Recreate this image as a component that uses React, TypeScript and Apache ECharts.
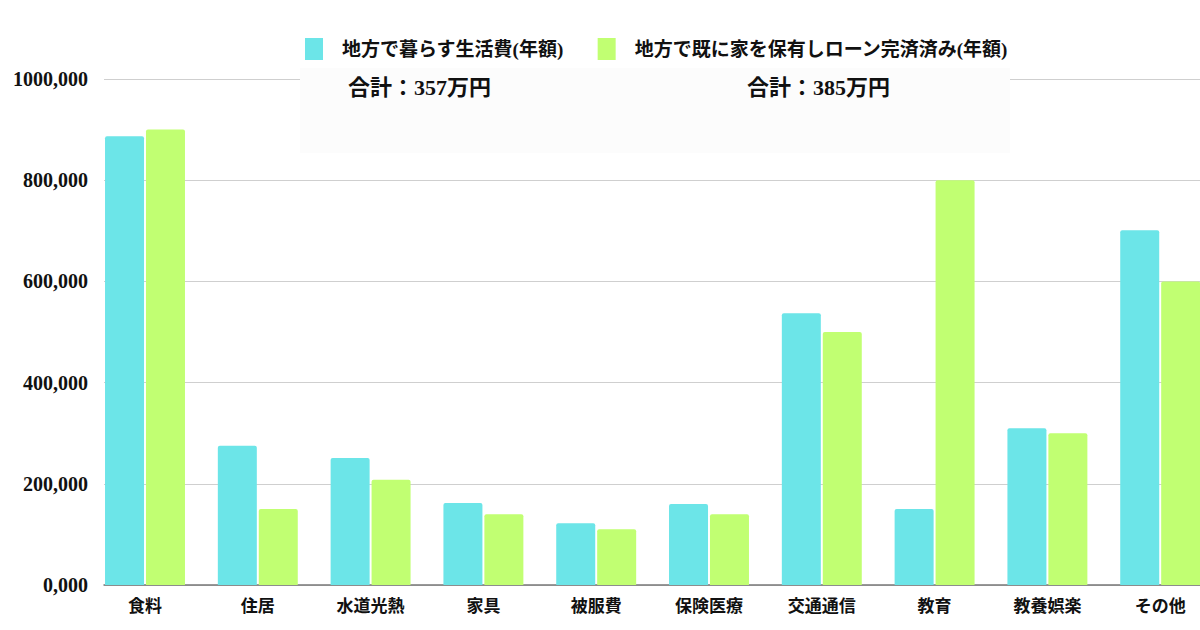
import React, { useEffect, useRef } from "react";
import * as echarts from "echarts";

const categories = ["食料", "住居", "水道光熱", "家具", "被服費", "保険医療", "交通通信", "教育", "教養娯楽", "その他"];
const seriesNames = ["地方で暮らす生活費(年額)", "地方で既に家を保有しローン完済済み(年額)"];
const ruralLiving = [887000, 275000, 251000, 162000, 122000, 160000, 537000, 150000, 310000, 701000];
const ownedHome = [900000, 150000, 208000, 140000, 110000, 140000, 500000, 800000, 300000, 600000];
const totals = ["合計：357万円", "合計：385万円"];
const colors = ["#6ce5e8", "#c1ff72"];

const FONT = "'Liberation Serif', 'Noto Sans CJK JP', serif";

function fmt(v: number): string {
  const k = Math.floor(v / 1000);
  const r = v % 1000;
  return k + "," + String(r).padStart(3, "0");
}

export default function App() {
  const ref = useRef<HTMLDivElement>(null);
  useEffect(() => {
    if (!ref.current) return;
    const chart = echarts.init(ref.current, null, { renderer: "svg" });
    const gridTop = 79;
    const gridH = 506;
    chart.setOption({
      animation: false,
      backgroundColor: "#ffffff",
      textStyle: { fontFamily: FONT },
      legend: {
        left: 300,
        top: 33,
        itemWidth: 18,
        itemHeight: 22,
        itemGap: 34,
        icon: "rect",
        data: seriesNames,
        textStyle: { fontFamily: FONT, fontSize: 19, fontWeight: "bold", color: "#111", padding: [0, 0, 0, 14] },
      },
      grid: [
        { left: 88.6, top: gridTop, width: 1128, height: gridH },
        { left: 104, top: gridTop, width: 1130, height: gridH },
      ],
      xAxis: [
        {
          type: "category",
          gridIndex: 0,
          data: categories,
          axisLine: { show: false },
          axisTick: { show: false },
          axisLabel: { fontFamily: FONT, fontSize: 17, fontWeight: "bold", color: "#111", margin: 13 },
        },
        {
          type: "category",
          gridIndex: 1,
          data: categories,
          axisLine: { show: true, lineStyle: { color: "#777", width: 1.5 } },
          axisTick: { show: false },
          axisLabel: { show: false },
        },
      ],
      yAxis: [
        { type: "value", gridIndex: 0, min: 0, max: 1000000, interval: 200000, show: false, splitLine: { show: false } },
        {
          type: "value",
          gridIndex: 1,
          min: 0,
          max: 1000000,
          interval: 200000,
          axisLine: { show: false },
          axisTick: { show: false },
          splitLine: { lineStyle: { color: "#cfcfcf", width: 1 } },
          axisLabel: {
            fontFamily: FONT,
            fontSize: 20,
            fontWeight: "bold",
            color: "#111",
            margin: 16,
            formatter: (v: number) => fmt(v),
          },
        },
      ],
      series: [
        {
          name: seriesNames[0],
          type: "bar",
          xAxisIndex: 0,
          yAxisIndex: 0,
          data: ruralLiving,
          barWidth: 39,
          barGap: "5%",
          itemStyle: { color: colors[0], borderRadius: [2, 2, 0, 0] },
        },
        {
          name: seriesNames[1],
          type: "bar",
          xAxisIndex: 0,
          yAxisIndex: 0,
          data: ownedHome,
          barWidth: 39,
          barGap: "5%",
          itemStyle: { color: colors[1], borderRadius: [2, 2, 0, 0] },
        },
      ],
      graphic: [
        {
          type: "rect",
          shape: { x: 300, y: 68, width: 710, height: 85 },
          style: { fill: "#fcfcfc" },
          z: 10,
        },
        {
          type: "text",
          x: 348,
          y: 76,
          z: 11,
          style: { text: totals[0], fontFamily: FONT, fontSize: 22, fontWeight: "bold", fill: "#111" },
        },
        {
          type: "text",
          x: 747,
          y: 76,
          z: 11,
          style: { text: totals[1], fontFamily: FONT, fontSize: 22, fontWeight: "bold", fill: "#111" },
        },
      ],
    });
    return () => chart.dispose();
  }, []);
  return <div ref={ref} style={{ position: "fixed", left: 0, top: 0, width: 1240, height: 630 }} />;
}
